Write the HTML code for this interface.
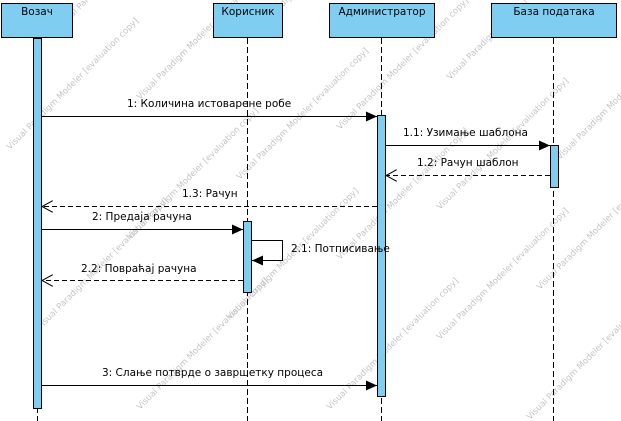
<!DOCTYPE html>
<html><head><meta charset="utf-8"><style>
html,body{margin:0;padding:0;background:#fff;width:621px;height:421px;overflow:hidden}
svg{display:block}
text{font-family:"DejaVu Sans","Liberation Sans",sans-serif;font-size:10.5px;fill:#000}
.wm text{font-size:8.5px;fill:#c4c4c4}
</style></head><body>
<svg width="621" height="421" viewBox="0 0 621 421" xmlns="http://www.w3.org/2000/svg">
<defs>
<marker id="f" markerWidth="12" markerHeight="10" refX="11" refY="5" orient="auto" markerUnits="userSpaceOnUse"><path d="M0,0 L11,5 L0,10 Z" fill="#000"/></marker>
<marker id="o" markerWidth="12" markerHeight="12" refX="11" refY="6" orient="auto" markerUnits="userSpaceOnUse"><path d="M0,0 L11,6 L0,12" fill="none" stroke="#000"/></marker>
</defs>
<g class="wm">
<text transform="translate(10,150) rotate(-45)">Visual Paradigm Modeler [evaluation copy]</text>
<text transform="translate(60,30) rotate(-45)">Visual Paradigm Modeler [evaluation copy]</text>
<text transform="translate(40,330) rotate(-45)">Visual Paradigm Modeler [evaluation copy]</text>
<text transform="translate(130,240) rotate(-45)">Visual Paradigm Modeler [evaluation copy]</text>
<text transform="translate(140,100) rotate(-45)">Visual Paradigm Modeler [evaluation copy]</text>
<text transform="translate(140,410) rotate(-45)">Visual Paradigm Modeler [evaluation copy]</text>
<text transform="translate(230,320) rotate(-45)">Visual Paradigm Modeler [evaluation copy]</text>
<text transform="translate(240,180) rotate(-45)">Visual Paradigm Modeler [evaluation copy]</text>
<text transform="translate(250,40) rotate(-45)">Visual Paradigm Modeler [evaluation copy]</text>
<text transform="translate(330,410) rotate(-45)">Visual Paradigm Modeler [evaluation copy]</text>
<text transform="translate(340,260) rotate(-45)">Visual Paradigm Modeler [evaluation copy]</text>
<text transform="translate(340,130) rotate(-45)">Visual Paradigm Modeler [evaluation copy]</text>
<text transform="translate(440,340) rotate(-45)">Visual Paradigm Modeler [evaluation copy]</text>
<text transform="translate(440,210) rotate(-45)">Visual Paradigm Modeler [evaluation copy]</text>
<text transform="translate(450,80) rotate(-45)">Visual Paradigm Modeler [evaluation copy]</text>
<text transform="translate(530,420) rotate(-45)">Visual Paradigm Modeler [evaluation copy]</text>
<text transform="translate(540,290) rotate(-45)">Visual Paradigm Modeler [evaluation copy]</text>
<text transform="translate(560,160) rotate(-45)">Visual Paradigm Modeler [evaluation copy]</text>
</g>
<g stroke="#000" stroke-width="1" stroke-dasharray="6,3" fill="none">
<line x1="37.5" y1="38" x2="37.5" y2="421"/>
<line x1="247.5" y1="38" x2="247.5" y2="421"/>
<line x1="381.5" y1="38" x2="381.5" y2="421"/>
<line x1="553.5" y1="38" x2="553.5" y2="421"/>
</g>
<g fill="#7fcdf0" stroke="#000" stroke-width="1">
<rect x="1.5" y="3.5" width="71" height="34"/>
<rect x="213.5" y="3.5" width="69" height="34"/>
<rect x="329.5" y="3.5" width="105" height="34"/>
<rect x="491.5" y="3.5" width="125" height="34"/>
<rect x="33.5" y="38.5" width="8" height="370"/>
<rect x="243.5" y="221.5" width="8" height="71"/>
<rect x="377.5" y="115.5" width="8" height="281"/>
<rect x="550.5" y="145.5" width="8" height="42"/>
</g>
<text x="37" y="15" text-anchor="middle">Возач</text>
<text x="248" y="15" text-anchor="middle">Корисник</text>
<text x="382" y="15" text-anchor="middle">Администратор</text>
<text x="554" y="15" text-anchor="middle">База података</text>
<g stroke="#000" stroke-width="1" fill="none">
<line x1="41" y1="116.5" x2="377" y2="116.5" marker-end="url(#f)"/>
<line x1="385" y1="145.5" x2="550" y2="145.5" marker-end="url(#f)"/>
<line x1="550" y1="175.5" x2="386" y2="175.5" stroke-dasharray="5,3" marker-end="url(#o)"/>
<line x1="377" y1="206.5" x2="42" y2="206.5" stroke-dasharray="5,3" marker-end="url(#o)"/>
<line x1="41" y1="229.5" x2="243" y2="229.5" marker-end="url(#f)"/>
<polyline points="251,240.5 282.5,240.5 282.5,260.5 252,260.5" marker-end="url(#f)"/>
<line x1="243" y1="280.5" x2="42" y2="280.5" stroke-dasharray="5,3" marker-end="url(#o)"/>
<line x1="41" y1="385.5" x2="377" y2="385.5" marker-end="url(#f)"/>
</g>
<text x="127" y="107">1: Количина истоварене робе</text>
<text x="403" y="136">1.1: Узимање шаблона</text>
<text x="417" y="166">1.2: Рачун шаблон</text>
<text x="182" y="197">1.3: Рачун</text>
<text x="92" y="220">2: Предаја рачуна</text>
<text x="291" y="252">2.1: Потписивање</text>
<text x="81" y="272">2.2: Повраћај рачуна</text>
<text x="102" y="376">3: Слање потврде о завршетку процеса</text>
</svg>
</body></html>
